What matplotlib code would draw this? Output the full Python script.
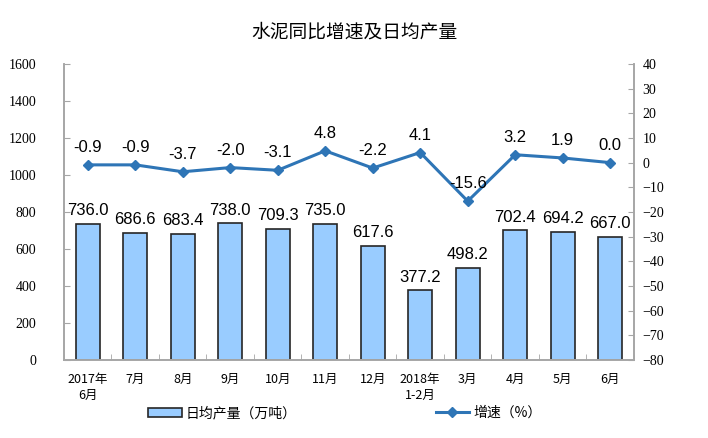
import matplotlib.pyplot as plt
import numpy as np

plt.rcParams['font.family'] = ['Liberation Serif', 'Noto Sans CJK SC', 'DejaVu Sans']

months = ['2017年\n6月', '7月', '8月', '9月', '10月', '11月', '12月',
          '2018年\n1-2月', '3月', '4月', '5月', '6月']
output = [736.0, 686.6, 683.4, 738.0, 709.3, 735.0, 617.6, 377.2, 498.2, 702.4, 694.2, 667.0]
growth = [-0.9, -0.9, -3.7, -2.0, -3.1, 4.8, -2.2, 4.1, -15.6, 3.2, 1.9, 0.0]

bar_color = '#99CCFF'
line_color = '#2E75B6'
axis_gray = '#A6A6A6'

fig = plt.figure(figsize=(7.08, 4.38), dpi=100)
ax = fig.add_axes([0.0904, 0.178, 0.805, 0.676])
x = np.arange(len(months))

bars = ax.bar(x, output, width=0.5, color=bar_color, edgecolor='#262626',
              linewidth=1.2, label='日均产量（万吨）', zorder=2)
for xi, v in zip(x, output):
    ax.text(xi, v + 30, f'{v:.1f}', ha='center', va='bottom', fontsize=12,
            family=['Liberation Sans', 'DejaVu Sans'])

ax.set_ylim(0, 1600)
ax.set_yticks(range(0, 1601, 200))
ax.set_xlim(-0.5, len(months) - 0.5)
ax.set_xticks(x)
ax.set_xticklabels(months, fontsize=9, family=['Noto Sans CJK SC', 'DejaVu Sans'],
                   linespacing=1.3)
ax.set_xticks(np.arange(-0.5, len(months), 1), minor=True)
ax.tick_params(axis='x', which='major', length=0, pad=9)
ax.tick_params(axis='x', which='minor', length=4, direction='in', color=axis_gray)
ax.tick_params(axis='y', direction='in', length=4, color=axis_gray, labelsize=10, pad=20)

ax2 = ax.twinx()
ax2.plot(x, growth, color=line_color, linewidth=2.2, marker='D', markersize=5,
         label='增速（%）', zorder=3)
for xi, v in zip(x, growth):
    ax2.text(xi, v + 4, f'{v:.1f}', ha='center', va='bottom', fontsize=12,
             family=['Liberation Sans', 'DejaVu Sans'])
ax2.set_ylim(-80, 40)
ax2.set_yticks(range(-80, 41, 10))
ax2.tick_params(axis='y', direction='in', length=4, color=axis_gray, labelsize=10, pad=6)

for a in (ax, ax2):
    a.spines['top'].set_visible(False)
    for s in ('left', 'right', 'bottom'):
        a.spines[s].set_color(axis_gray)
        a.spines[s].set_linewidth(1.2)

fig.text(0.5, 0.928, '水泥同比增速及日均产量', ha='center', va='center', fontsize=13.5,
         family=['Noto Sans CJK SC', 'DejaVu Sans'])

h1, l1 = ax.get_legend_handles_labels()
h2, l2 = ax2.get_legend_handles_labels()
fig.legend(h1 + h2, l1 + l2, loc='center', bbox_to_anchor=(0.487, 0.057), ncol=2,
           frameon=False, columnspacing=10, handlelength=2.4, handleheight=0.6,
           handletextpad=0.3,
           prop={'family': ['Noto Sans CJK SC', 'DejaVu Sans'], 'size': 10})

fig.savefig('out.png', dpi=100)
